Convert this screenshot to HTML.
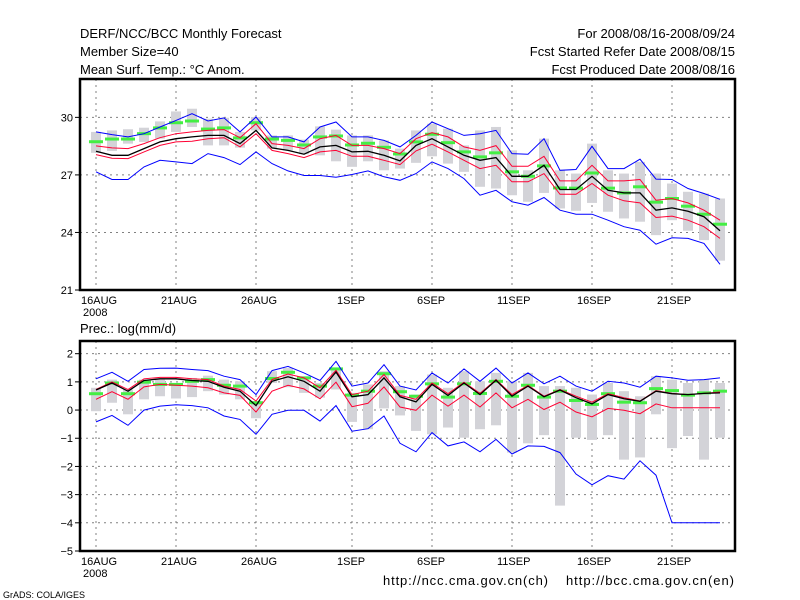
<!DOCTYPE html>
<html><head><meta charset="utf-8"><style>
body{margin:0;background:#fff;}
svg{display:block;font-family:"Liberation Sans","DejaVu Sans",sans-serif;}
</style></head><body>
<svg id="c" width="800" height="600" viewBox="0 0 800 600">
<rect x="0" y="0" width="800" height="600" fill="#fff"/>
<g font-size="13" fill="#000">
<text x="80" y="38">DERF/NCC/BCC Monthly Forecast</text>
<text x="80" y="56">Member Size=40</text>
<text x="80" y="74">Mean Surf. Temp.: °C Anom.</text>
<text x="735" y="38" text-anchor="end">For 2008/08/16-2008/09/24</text>
<text x="735" y="56" text-anchor="end">Fcst Started Refer Date 2008/08/15</text>
<text x="735" y="74" text-anchor="end">Fcst Produced Date 2008/08/16</text>
<text x="80" y="333">Prec.: log(mm/d)</text>
<text x="383" y="585" textLength="165">http://ncc.cma.gov.cn(ch)</text>
<text x="566" y="585" textLength="168">http://bcc.cma.gov.cn(en)</text>
<text x="3" y="598" font-size="9">GrADS: COLA/IGES</text>
</g>
<g id="p1"></g>
<g id="p2"></g>
</svg>
<script>
const dateLabels = ["16AUG","21AUG","26AUG","1SEP","6SEP","11SEP","16SEP","21SEP"];
const dateLabelIdx = [0,5,10,16,21,26,31,36];
const tTicks = [21,24,27,30];
const pTicks = [2,1,0,-1,-2,-3,-4,-5];
const tMax = [29.24,29.10,28.98,29.15,29.50,29.84,30.19,29.81,29.97,29.24,30.02,28.98,28.98,28.72,29.50,29.76,28.98,28.98,28.80,28.46,29.06,29.76,29.41,29.06,29.15,29.32,28.11,28.08,28.89,27.24,27.28,28.49,27.33,27.33,27.82,26.78,26.76,26.29,26.03,25.73];
const tMin = [27.16,26.76,26.76,27.42,27.76,27.68,27.59,28.11,27.90,27.54,28.20,27.59,27.21,26.97,26.97,26.88,27.02,27.21,26.90,26.72,27.07,27.68,27.33,26.81,25.94,26.20,25.60,25.42,25.82,25.16,24.95,24.95,24.64,24.30,24.12,23.39,23.72,23.69,23.43,22.34];
const tUp = [28.51,28.41,28.37,28.63,28.94,29.15,29.24,29.32,29.36,28.94,29.67,28.63,28.54,28.37,28.89,29.06,28.54,28.54,28.37,28.11,28.89,29.20,28.98,28.46,28.28,28.53,27.45,27.45,27.97,26.69,26.69,27.50,26.69,26.69,26.76,25.68,25.77,25.54,25.16,24.64];
const tMean = [28.23,28.02,28.02,28.37,28.72,28.89,28.98,29.06,29.06,28.63,29.32,28.41,28.28,28.08,28.46,28.54,28.20,28.23,28.02,27.73,28.54,28.89,28.46,28.02,27.76,27.90,26.93,26.93,27.50,26.24,26.24,26.93,26.20,26.06,26.06,25.16,25.28,25.11,24.82,24.09];
const tLo = [28.06,27.87,27.85,28.20,28.54,28.72,28.75,28.89,28.94,28.46,29.15,28.28,28.11,27.90,28.20,28.28,27.97,27.97,27.76,27.54,28.25,28.60,28.20,27.76,27.33,27.50,26.64,26.64,27.07,25.99,25.99,26.55,25.94,25.65,25.54,24.78,24.85,24.64,24.30,23.69];
const tBoxTop = [29.24,29.32,29.38,29.46,29.79,30.31,30.45,29.93,29.98,29.24,30.02,29.06,29.06,28.84,29.53,29.36,29.06,29.06,28.80,28.37,29.32,29.67,29.41,28.54,29.32,29.50,28.28,27.24,28.89,27.24,27.07,28.63,27.24,27.07,27.68,27.07,26.55,26.12,26.03,25.77];
const tBoxBot = [28.15,28.25,28.63,28.72,28.89,29.24,29.50,28.54,28.54,28.42,29.32,28.37,28.28,28.08,28.02,27.71,27.42,27.71,27.24,27.33,27.63,27.97,27.59,27.16,26.38,26.29,25.94,25.60,26.06,25.25,25.13,25.54,25.08,24.73,24.56,23.86,24.64,24.09,23.60,22.53];
const tObs = [28.73,28.87,28.87,29.15,29.45,29.72,29.81,29.39,29.45,28.93,29.72,28.87,28.80,28.56,28.98,29.03,28.56,28.65,28.44,28.09,28.72,29.12,28.68,28.20,27.94,28.15,27.16,26.93,27.47,26.32,26.31,27.10,26.31,26.06,26.38,25.58,25.77,25.37,24.95,24.43];
const pMax = [1.11,1.34,1.02,1.44,1.48,1.49,1.44,1.40,1.20,1.08,0.55,1.40,1.55,1.32,1.05,1.73,0.85,0.96,1.61,0.85,0.71,1.32,0.96,1.46,1.02,1.49,0.96,1.32,0.93,1.20,0.85,0.67,1.02,0.96,0.81,1.20,1.14,1.06,1.08,1.14];
const pMin = [-0.42,-0.19,-0.54,0.00,0.14,0.19,0.16,0.08,-0.21,-0.33,-0.86,-0.15,-0.01,-0.01,-0.39,0.16,-0.75,-0.66,-0.21,-1.18,-1.48,-0.80,-1.27,-1.13,-1.48,-1.04,-1.56,-1.27,-1.29,-1.51,-2.27,-2.65,-2.33,-2.45,-1.80,-2.31,-4.0,-4.0,-4.0,-4.0];
const pUp = [0.73,1.00,0.73,1.11,1.16,1.16,1.11,1.08,0.85,0.73,0.32,1.08,1.28,1.14,0.79,1.41,0.55,0.67,1.26,0.52,0.38,0.96,0.58,0.99,0.59,1.08,0.55,0.88,0.49,0.73,0.49,0.28,0.58,0.44,0.32,0.69,0.59,0.55,0.59,0.64];
const pMean = [0.71,0.96,0.67,1.05,1.11,1.11,1.05,1.02,0.81,0.67,0.16,1.02,1.18,1.02,0.67,1.35,0.47,0.55,1.14,0.47,0.29,0.91,0.52,0.96,0.55,1.06,0.49,0.85,0.47,0.71,0.44,0.22,0.55,0.40,0.31,0.67,0.58,0.55,0.59,0.61];
const pLo = [0.38,0.65,0.38,0.82,0.91,0.88,0.85,0.79,0.61,0.52,-0.07,0.67,0.88,0.75,0.40,0.99,0.12,0.24,0.82,0.11,-0.01,0.53,0.14,0.53,0.11,0.61,0.08,0.38,0.02,0.28,-0.07,-0.24,0.06,-0.01,-0.13,0.22,0.08,0.08,0.08,0.08];
const pBoxTop = [0.79,1.08,0.73,1.08,1.08,0.96,1.14,1.22,1.08,1.02,0.32,1.38,1.49,1.20,0.96,1.49,0.61,0.91,1.38,0.85,0.55,1.26,0.79,1.38,1.02,1.32,1.02,1.32,0.85,0.85,0.79,0.55,0.96,0.67,0.49,1.20,1.08,0.96,1.08,0.96];
const pBoxBot = [-0.04,0.26,-0.15,0.38,0.49,0.41,0.46,0.67,0.55,0.38,-0.29,0.96,0.81,0.61,0.44,0.73,-0.42,-0.68,0.06,-0.19,-0.74,-0.86,-0.62,-0.98,-0.68,-0.54,-1.51,-1.18,-0.89,-3.39,-0.98,-1.06,-0.89,-1.76,-1.68,-0.15,-1.35,-0.92,-1.76,-0.98];
const pObs = [0.58,0.96,0.58,0.99,0.91,0.91,1.02,1.08,0.88,0.85,0.26,1.12,1.34,1.14,0.85,1.46,0.53,0.67,1.29,0.65,0.49,0.93,0.46,0.93,0.59,1.02,0.49,0.88,0.46,0.67,0.34,0.20,0.58,0.28,0.26,0.76,0.69,0.53,0.61,0.67];

const NS='http://www.w3.org/2000/svg';
function mk(parent,tag,attrs){const e=document.createElementNS(NS,tag);for(const k in attrs)e.setAttribute(k,attrs[k]);parent.appendChild(e);return e;}
const xOf = i => 96 + 16*i;

function panel(g, top, bot, vmin, vmax, ticks, series, boxTop, boxBot, obs, key){
  const yOf = v => bot - (v - vmin)/(vmax - vmin)*(bot - top);
  const L=80, R=735;
  ticks.forEach(t=>{
    const y=yOf(t);
    if(t!==vmin && t!==vmax){
      const gl=mk(g,'line',{x1:L,x2:R,y1:y,y2:y,stroke:'#808080','stroke-dasharray':'2,4','stroke-width':1});
      
      
    }
    const tk=mk(g,'line',{x1:L-5,x2:L,y1:y,y2:y,stroke:'#000'});
    
    
    const tl=mk(g,'text',{x:L-7,y:y+4,'text-anchor':'end','font-size':11});
    tl.textContent = t<0 ? '\u2212'+Math.abs(t) : String(t);
    
    
  });
  dateLabelIdx.forEach((di,k)=>{
    const x=xOf(di);
    const gl=mk(g,'line',{x1:x,x2:x,y1:top,y2:bot,stroke:'#808080','stroke-dasharray':'2,4','stroke-width':1});
    
    
    const tl=mk(g,'text',{x:x-15,y:bot+14,'font-size':11});
    tl.textContent=dateLabels[k];
    
    
  });
  const yr=mk(g,'text',{x:xOf(0)-13,y:bot+26,'font-size':11});
  yr.textContent='2008';
  
  
  for(let i=0;i<boxTop.length;i++){
    const y1=yOf(boxTop[i]), y2=yOf(boxBot[i]);
    const b=mk(g,'rect',{x:xOf(i)-5,y:y1,width:10,height:Math.max(1,y2-y1),fill:'#d3d3d8'});
    
    
  }
  for(let i=0;i<obs.length;i++){
    const o=mk(g,'rect',{x:xOf(i)-7,y:yOf(obs[i])-1.5,width:14,height:3,fill:'#44ee44'});
    
    
  }
  series.forEach(s=>{
    const pts=s.data.map((v,i)=>xOf(i)+','+yOf(v).toFixed(1)).join(' ');
    const p=mk(g,'polyline',{points:pts,fill:'none',stroke:s.color,'stroke-width':s.w});
    
    
  });
  const fr=mk(g,'rect',{x:L,y:top,width:R-L,height:bot-top,fill:'none',stroke:'#000','stroke-width':2.5});
  
  
}
panel(document.getElementById('p1'),79,290,21,32,tTicks,[
  {name:'max-line',data:tMax,color:'#0000ff',w:1},
  {name:'min-line',data:tMin,color:'#0000ff',w:1},
  {name:'upper-line',data:tUp,color:'#ff0033',w:1},
  {name:'lower-line',data:tLo,color:'#ff0033',w:1},
  {name:'mean-line',data:tMean,color:'#000',w:1.3}],tBoxTop,tBoxBot,tObs,'temp');
panel(document.getElementById('p2'),341,551,-5,2.45,pTicks,[
  {name:'max-line',data:pMax,color:'#0000ff',w:1},
  {name:'min-line',data:pMin,color:'#0000ff',w:1},
  {name:'upper-line',data:pUp,color:'#ff0033',w:1},
  {name:'lower-line',data:pLo,color:'#ff0033',w:1},
  {name:'mean-line',data:pMean,color:'#000',w:1.3}],pBoxTop,pBoxBot,pObs,'prec');
</script>
</body></html>
